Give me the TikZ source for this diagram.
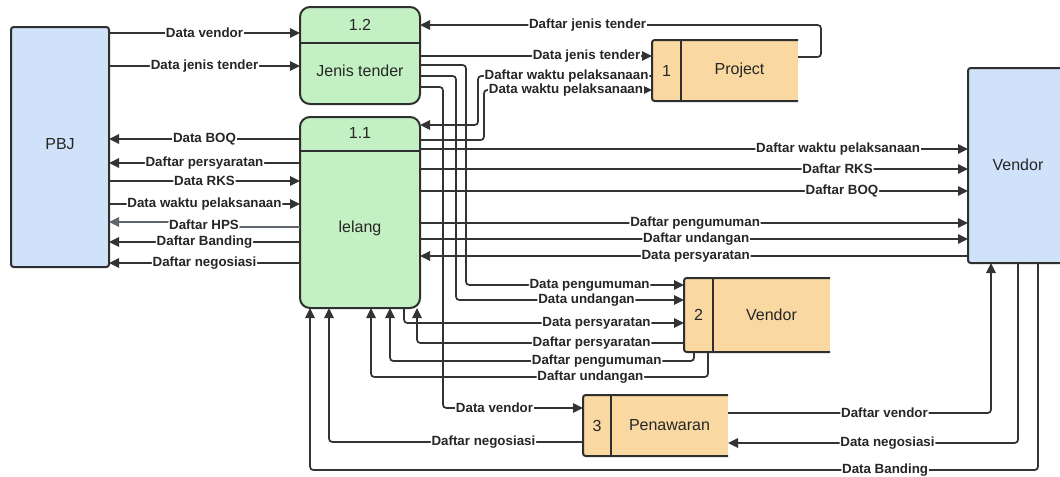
\documentclass[tikz,border=0pt]{standalone}
\usepackage{fontspec}
\setmainfont{Liberation Sans}
\usetikzlibrary{arrows.meta,calc}

\definecolor{boxc}{HTML}{2F2F2F}
\definecolor{linec}{HTML}{333333}
\definecolor{txtc}{HTML}{262626}
\definecolor{procfill}{HTML}{C4F1C4}
\definecolor{extfill}{HTML}{CFE2F9}
\definecolor{storefill}{HTML}{F9D8A1}
\definecolor{softline}{HTML}{5F6670}

\newcommand{\flowfont}{\bfseries\fontsize{10}{12}\selectfont}
\newcommand{\boxfont}{\fontsize{12}{14}\selectfont}

\begin{document}
\begin{tikzpicture}[x=0.75pt,y=-0.75pt,
  proc/.style={draw=boxc, fill=procfill, line width=1.5pt, rounded corners=7.5pt,
               inner sep=0pt, outer sep=0pt},
  ext/.style={draw=boxc, fill=extfill, line width=1.5pt, rounded corners=2pt,
              inner sep=0pt, outer sep=0pt},
  store/.style={fill=storefill, inner sep=0pt, outer sep=0pt},
  storeline/.style={draw=boxc, line width=1.5pt, rounded corners=2pt},
  divider/.style={draw=boxc, line width=1.5pt},
  boxtext/.style={font=\boxfont, text=txtc, inner sep=0pt},
  flow/.style={draw=linec, line width=1.3pt, rounded corners=2.5pt},
  arr/.style={-{Triangle[length=7.5pt,width=7pt]}},
  lbl/.style={fill=white, inner sep=0.6pt, font=\flowfont, text=txtc},
]
\useasboundingbox (0,0) rectangle (1060,476);
\clip (0,0) rectangle (1060,476);

% ---------- external entities ----------
\node[ext, minimum width=73.5pt, minimum height=180pt] (pbj) at (60,147) {};
\node[boxtext] (pbjtxt) at (60,144) {PBJ};

\node[ext, minimum width=75pt, minimum height=146.25pt] (vend) at (1018,165.5) {};
\node[boxtext] (vendtxt) at (1018,165) {Vendor};

% ---------- processes ----------
\node[proc, minimum width=90pt, minimum height=72.75pt] (p12) at (360,55.5) {};
\draw[divider] (p12.west |- 0,43) -- (p12.east |- 0,43);
\node[boxtext] (p12id) at (360,25) {1.2};
\node[boxtext] (p12nm) at (360,71) {Jenis tender};

\node[proc, minimum width=90pt, minimum height=143.25pt] (p11) at (360,212.5) {};
\draw[divider] (p11.west |- 0,151) -- (p11.east |- 0,151);
\node[boxtext] (p11id) at (360,133) {1.1};
\node[boxtext] (p11nm) at (360,228) {lelang};

% ---------- data stores (open on the right) ----------
\node[store, minimum width=109.5pt, minimum height=45.75pt] (ds1) at (725,70.5) {};
\draw[storeline] (ds1.north east) -- (ds1.north west) -- (ds1.south west) -- (ds1.south east);
\draw[divider] ([xshift=21.75pt]ds1.north west) -- ([xshift=21.75pt]ds1.south west);
\node[boxtext] (ds1id) at (666.5,70.5) {1};
\node[boxtext] (ds1nm) at (739.5,70.5) {Project};

\node[store, minimum width=109.5pt, minimum height=55.5pt] (ds2) at (757,315) {};
\draw[storeline] (ds2.north east) -- (ds2.north west) -- (ds2.south west) -- (ds2.south east);
\draw[divider] ([xshift=21.75pt]ds2.north west) -- ([xshift=21.75pt]ds2.south west);
\node[boxtext] (ds2id) at (698.5,315) {2};
\node[boxtext] (ds2nm) at (771.5,315) {Vendor};

\node[store, minimum width=108.75pt, minimum height=45.75pt] (ds3) at (655.5,425.5) {};
\draw[storeline] (ds3.north east) -- (ds3.north west) -- (ds3.south west) -- (ds3.south east);
\draw[divider] ([xshift=21pt]ds3.north west) -- ([xshift=21pt]ds3.south west);
\node[boxtext] (ds3id) at (597,425.5) {3};
\node[boxtext] (ds3nm) at (669.5,425.5) {Penawaran};

% ---------- PBJ <-> 1.2 ----------
\draw[flow,arr] (pbj.east |- 0,33) -- node[lbl]{Data vendor} (p12.west |- 0,33);
\draw[flow,arr] (pbj.east |- 0,66) -- node[lbl]{Data jenis tender} (p12.west |- 0,66);

% ---------- PBJ <-> 1.1 ----------
\draw[flow,arr] (p11.west |- 0,139) -- node[lbl]{Data BOQ} (pbj.east |- 0,139);
\draw[flow,arr] (p11.west |- 0,163) -- node[lbl]{Daftar persyaratan} (pbj.east |- 0,163);
\draw[flow,arr] (pbj.east |- 0,181) -- node[lbl]{Data RKS} (p11.west |- 0,181);
\draw[flow,arr] (pbj.east |- 0,204) -- node[lbl]{Data waktu pelaksanaan} (p11.west |- 0,204);
\draw[flow,arr,draw=softline] (p11.west |- 0,227) -- (204,227) -- node[lbl]{Daftar HPS} (204,222) -- (pbj.east |- 0,222);
\draw[flow,arr] (p11.west |- 0,242) -- node[lbl]{Daftar Banding} (pbj.east |- 0,242);
\draw[flow,arr] (p11.west |- 0,263) -- node[lbl]{Daftar negosiasi} (pbj.east |- 0,263);

% ---------- 1.2 / 1.1 <-> Project ----------
\draw[flow,arr] (ds1.east |- 0,57) -- (821,57) -- (821,25) -- node[lbl,pos=0.582]{Daftar jenis tender} (p12.east |- 0,25);
\draw[flow,arr] (p12.east |- 0,56) -- node[lbl,pos=0.718]{Data jenis tender} (ds1.west |- 0,56);
\draw[flow,arr] (ds1.west |- 0,76) -- node[lbl,pos=0.491]{Daftar waktu pelaksanaan} (478,76) -- (478,125) -- (p11.east |- 0,125);
\draw[flow,arr] (p11.east |- 0,140) -- (484,140) -- (484,90) -- node[lbl,pos=0.488]{Data waktu pelaksanaan} (ds1.west |- 0,90);

% ---------- 1.2 -> Vendor store / Penawaran ----------
\draw[flow,arr] (p12.east |- 0,65) -- (466,65) -- (466,285) -- node[lbl,pos=0.567]{Data pengumuman} (ds2.west |- 0,285);
\draw[flow,arr] (p12.east |- 0,76) -- (456,76) -- (456,300) -- node[lbl,pos=0.572]{Data undangan} (ds2.west |- 0,300);
\draw[flow,arr] (p12.east |- 0,87) -- (443,87) -- (443,408) -- node[lbl,pos=0.368]{Data vendor} (ds3.west |- 0,408);

% ---------- 1.1 <-> Vendor ----------
\draw[flow,arr] (p11.east |- 0,149) -- node[lbl,pos=0.763]{Daftar waktu pelaksanaan} (vend.west |- 0,149);
\draw[flow,arr] (p11.east |- 0,169) -- node[lbl,pos=0.762]{Daftar RKS} (vend.west |- 0,169);
\draw[flow,arr] (p11.east |- 0,191) -- node[lbl,pos=0.770]{Daftar BOQ} (vend.west |- 0,191);
\draw[flow,arr] (p11.east |- 0,223) -- node[lbl,pos=0.502]{Daftar pengumuman} (vend.west |- 0,223);
\draw[flow,arr] (p11.east |- 0,239) -- node[lbl,pos=0.504]{Daftar undangan} (vend.west |- 0,239);
\draw[flow,arr] (vend.west |- 0,256) -- node[lbl,pos=0.497]{Data persyaratan} (p11.east |- 0,256);

% ---------- 1.1 <-> Vendor store ----------
\draw[flow,arr] (p11.south -| 404,0) -- (404,323) -- node[lbl,pos=0.6875]{Data persyaratan} (ds2.west |- 0,323);
\draw[flow,arr] (ds2.west |- 0,343) -- node[lbl,pos=0.346]{Daftar persyaratan} (417,343) -- (p11.south -| 417,0);
\draw[flow,arr] (ds2.south -| 694,0) -- (694,361) -- node[lbl,pos=0.32]{Daftar pengumuman} (390,361) -- (p11.south -| 390,0);
\draw[flow,arr] (ds2.south -| 708,0) -- (708,377) -- node[lbl,pos=0.349]{Daftar undangan} (371,377) -- (p11.south -| 371,0);

% ---------- Penawaran and Banding ----------
\draw[flow,arr] (ds3.west |- 0,442) -- node[lbl,pos=0.392]{Daftar negosiasi} (329,442) -- (p11.south -| 329,0);
\draw[flow,arr] (vend.south -| 1038,0) -- (1038,470) -- node[lbl,pos=0.21]{Data Banding} (310,470) -- (p11.south -| 310,0);
\draw[flow,arr] (ds3.east |- 0,413) -- node[lbl,pos=0.595]{Daftar vendor} (991,413) -- (vend.south -| 991,0);
\draw[flow,arr] (vend.south -| 1018,0) -- (1018,443) -- node[lbl,pos=0.45]{Data negosiasi} (ds3.east |- 0,443);
\end{tikzpicture}
\end{document}
